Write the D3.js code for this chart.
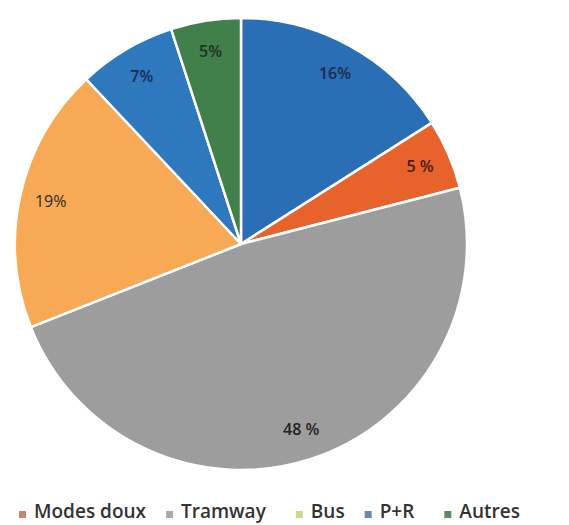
<!DOCTYPE html>
<html>
<head>
<meta charset="utf-8">
<script src="https://cdn.jsdelivr.net/npm/d3@7.9.0/dist/d3.min.js"></script>
<style>
  body { margin: 0; background: #fff; }
  svg { display: block; }
</style>
</head>
<body>
<svg id="chart" width="569" height="525"></svg>
<script>
// slices, clockwise from 12 o'clock
const sliceValues = [16, 5, 48, 19, 7, 5];
const sliceLabels = ['16%', '5 %', '48 %', '19%', '7%', '5%'];
const sliceColors = ['#2a6fb5', '#e8622b', '#9d9d9d', '#f7a955', '#2e78be', '#417f4b'];
const labelColors = ['#1b2c4c', '#4a1d12', '#222222', '#2a2a2a', '#1a2c52', '#1d3322'];

// legend (does not map 1:1 to slices in the original)
const legendNames = ['Modes doux', 'Tramway', 'Bus', 'P+R', 'Autres'];
const legendColors = ['#c98172', '#a9a9a9', '#cbd994', '#6b87a6', '#5a8a66'];

const svg = d3.select('#chart');
const cx = 241, cy = 244, radius = 226;

let pie = d3.pie().sort(null).value(d => d).startAngle(0).endAngle(2 * Math.PI);
let arcs = pie(sliceValues);
let arcGen = d3.arc().innerRadius(0).outerRadius(radius);
let labelArc = d3.arc().innerRadius(195).outerRadius(195);

const g = svg.append('g').attr('transform', `translate(${cx},${cy})`);

g.selectAll('path')
  .data(arcs)
  .join('path')
  .attr('d', arcGen)
  .attr('fill', (d, i) => sliceColors[i])
  .attr('stroke', '#fff')
  .attr('stroke-width', 2.5)
  .attr('stroke-linejoin', 'round');

g.selectAll('text.lbl')
  .data(arcs)
  .join('text')
  .attr('class', 'lbl')
  .attr('transform', d => `translate(${labelArc.centroid(d)})`)
  .attr('text-anchor', 'middle')
  .attr('dy', '0.35em')
  .attr('font-family', '"Open Sans", sans-serif')
  .attr('font-size', 16)
  .attr('font-weight', (d, i) => i === 3 ? 400 : 600)
  .attr('fill', (d, i) => labelColors[i])
  .text((d, i) => sliceLabels[i]);

// legend row
const legend = svg.append('g').attr('transform', 'translate(0,518)');
let x = 19;
const gaps = [20, 30, 20, 30];
legendNames.forEach((name, i) => {
  legend.append('rect')
    .attr('x', x)
    .attr('y', -7)
    .attr('width', 7)
    .attr('height', 7)
    .attr('fill', legendColors[i]);
  let t = legend.append('text')
    .attr('x', x + 15)
    .attr('y', 0)
    .attr('font-family', '"Open Sans", sans-serif')
    .attr('font-size', 19)
    .attr('font-weight', 600)
    .attr('fill', '#333')
    .text(name);
  x = x + 15 + t.node().getComputedTextLength() + (gaps[i] || 0);
});
</script>
</body>
</html>
